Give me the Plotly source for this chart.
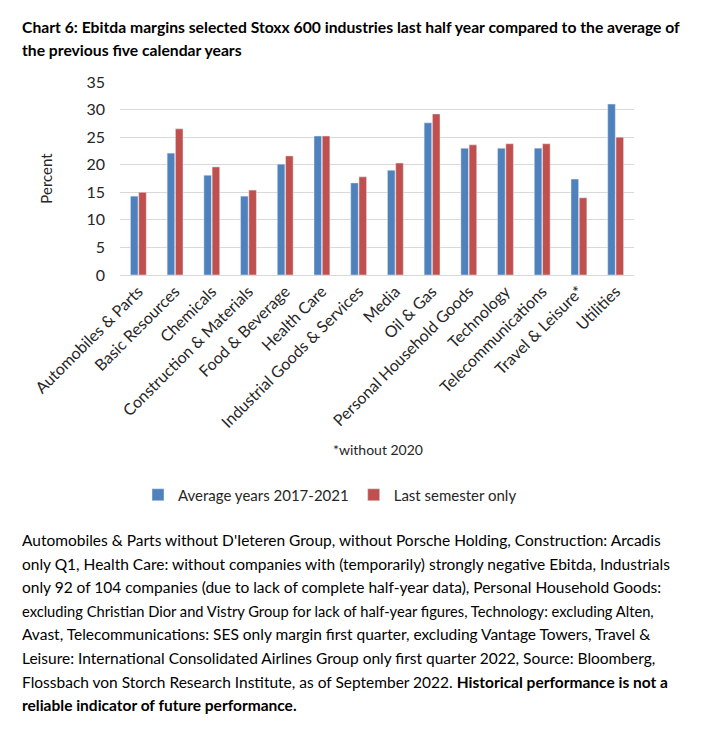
import plotly.graph_objects as go

categories = ["Automobiles & Parts", "Basic Resources", "Chemicals", "Construction & Materials",
              "Food & Beverage", "Health Care", "Industrial Goods & Services", "Media", "Oil & Gas",
              "Personal Household Goods", "Technology", "Telecommunications", "Travel & Leisure*",
              "Utilities"]
avg_2017_2021 = [14.3, 22.1, 18.1, 14.3, 20.1, 25.2, 16.7, 19.0, 27.6, 23.0, 23.0, 23.0, 17.4, 31.0]
last_semester = [15.0, 26.5, 19.6, 15.4, 21.6, 25.2, 17.8, 20.3, 29.2, 23.6, 23.8, 23.8, 14.0, 25.0]
series_names = ["Average years 2017-2021", "Last semester only"]
y_ticks = [0, 5, 10, 15, 20, 25, 30, 35]

title_lines = [
    "<b>Chart 6: Ebitda margins selected Stoxx 600 industries last half year compared to the average of</b>",
    "<b>the previous five calendar years</b>",
]
note_text = "*without 2020"
footnote_lines = [
    "Automobiles & Parts without D'Ieteren Group, without Porsche Holding, Construction: Arcadis",
    "only Q1, Health Care: without companies with (temporarily) strongly negative Ebitda, Industrials",
    "only 92 of 104 companies (due to lack of complete half-year data), Personal Household Goods:",
    "excluding Christian Dior and Vistry Group for lack of half-year figures, Technology: excluding Alten,",
    "Avast, Telecommunications: SES only margin first quarter, excluding Vantage Towers, Travel &",
    "Leisure: International Consolidated Airlines Group only first quarter 2022, Source: Bloomberg,",
    "Flossbach von Storch Research Institute, as of September 2022. <b>Historical performance is not a</b>",
    "<b>reliable indicator of future performance.</b>",
]
footnote_sizes = [15.5, 15.5, 15.5, 14.7, 15.5, 15.5, 15.5, 15.5]

OFF = 8  # page body margin
W, H = 713 - 2 * OFF, 729 - 2 * OFF
L, R, T, B = 120 - OFF, 634 - OFF, 82 - OFF, 275 - OFF  # plot area in figure pixels
FONT = "Lato, Carlito, 'Liberation Sans', sans-serif"
TXT = "#262626"


def xp(px):  # reference page pixel -> paper
    return (px - OFF - L) / (R - L)


def yp(py):
    return (B - (py - OFF)) / (B - T)


fig = go.Figure()
fig.add_trace(go.Bar(x=categories, y=avg_2017_2021, name=series_names[0], marker_color="#4F81BD"))
fig.add_trace(go.Bar(x=categories, y=last_semester, name=series_names[1], marker_color="#C0504D"))

annotations = []
for i, line in enumerate(title_lines):
    annotations.append(dict(text=line, x=xp(20), y=yp(27 + i * 23), xref="paper", yref="paper",
                            xanchor="left", yanchor="middle", showarrow=False,
                            font=dict(family=FONT, size=15.7, color="#000000")))
annotations.append(dict(text=note_text, x=xp(378), y=yp(449), xref="paper", yref="paper",
                        xanchor="center", yanchor="middle", showarrow=False,
                        font=dict(family=FONT, size=14, color=TXT)))
for i, line in enumerate(footnote_lines):
    annotations.append(dict(text=line, x=xp(20), y=yp(540 + i * 23.6), xref="paper", yref="paper",
                            xanchor="left", yanchor="middle", showarrow=False,
                            font=dict(family=FONT, size=footnote_sizes[i], color="#000000")))

fig.update_layout(
    width=W, height=H,
    margin=dict(l=L, r=W - R, t=T, b=H - B, autoexpand=False),
    paper_bgcolor="#ffffff", plot_bgcolor="#ffffff",
    font=dict(family=FONT, size=15, color=TXT),
    barmode="group", bargap=0.55, bargroupgap=0.08,
    showlegend=True,
    legend=dict(orientation="h", x=xp(138), y=yp(495), xanchor="left", yanchor="middle",
                font=dict(family=FONT, size=15, color=TXT), itemwidth=30,
                bgcolor="rgba(0,0,0,0)"),
    annotations=annotations,
    xaxis=dict(tickangle=-45, showgrid=False, showline=True, linecolor="#d9d9d9", linewidth=1,
               ticks="", tickfont=dict(family=FONT, size=16, color=TXT), automargin=False),
    yaxis=dict(range=[0, 35], tickvals=y_ticks, showgrid=True, gridcolor="#d9d9d9", gridwidth=1,
               zeroline=False, showline=False, ticks="", ticklabelstandoff=14,
               tickfont=dict(family=FONT, size=16, color=TXT), automargin=False,
               title=dict(text="Percent", standoff=30, font=dict(family=FONT, size=15, color=TXT))),
)

fig.write_html("out.html")
